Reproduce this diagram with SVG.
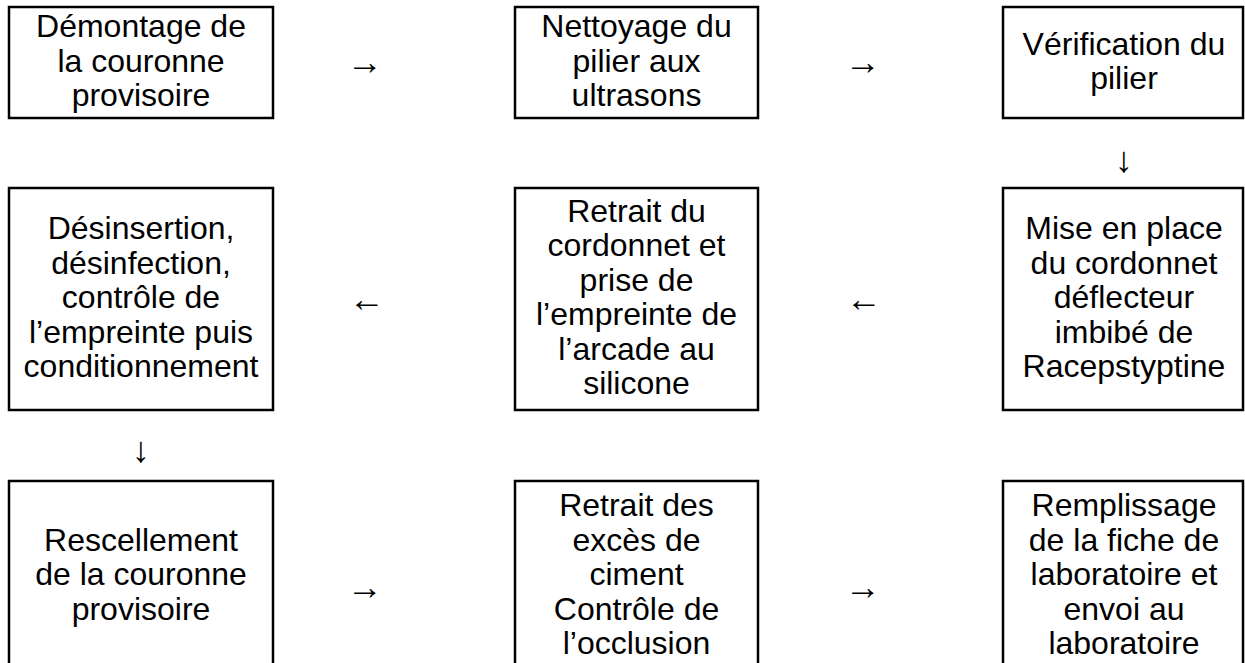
<svg xmlns="http://www.w3.org/2000/svg" width="1245" height="663" viewBox="0 0 1245 663">
  <style>
    .box { fill: #ffffff; stroke: #000000; stroke-width: 2.5; }
    .lbl { font-family: "Liberation Sans", Arial, sans-serif; font-size: 32px; fill: #000000; text-anchor: middle; }
    .arr { font-family: "Liberation Sans", "DejaVu Sans", sans-serif; font-size: 36px; fill: #000000; text-anchor: middle; }
  </style>
  <rect width="1245" height="663" fill="#ffffff"/>

  <!-- row 1 -->
  <g id="demontage">
    <rect class="box" x="9" y="7" width="264" height="111"/>
    <text class="lbl"><tspan x="141" y="37">Démontage de</tspan><tspan x="141" y="71.5">la couronne</tspan><tspan x="141" y="106">provisoire</tspan></text>
  </g>
  <g id="nettoyage">
    <rect class="box" x="515" y="7" width="243" height="111"/>
    <text class="lbl"><tspan x="636.5" y="37">Nettoyage du</tspan><tspan x="636.5" y="71.5">pilier aux</tspan><tspan x="636.5" y="106">ultrasons</tspan></text>
  </g>
  <g id="verification">
    <rect class="box" x="1003" y="7" width="240" height="111"/>
    <text class="lbl"><tspan x="1124" y="54.5">Vérification du</tspan><tspan x="1124" y="89">pilier</tspan></text>
  </g>

  <!-- row 2 -->
  <g id="desinsertion">
    <rect class="box" x="9" y="188" width="264" height="222"/>
    <text class="lbl"><tspan x="141" y="239">Désinsertion,</tspan><tspan x="141" y="273.5">désinfection,</tspan><tspan x="141" y="308">contrôle de</tspan><tspan x="141" y="342.5">l’empreinte puis</tspan><tspan x="141" y="377">conditionnement</tspan></text>
  </g>
  <g id="retrait-cordonnet">
    <rect class="box" x="515" y="188" width="243" height="222"/>
    <text class="lbl"><tspan x="636.5" y="221.75">Retrait du</tspan><tspan x="636.5" y="256.25">cordonnet et</tspan><tspan x="636.5" y="290.75">prise de</tspan><tspan x="636.5" y="325.25">l’empreinte de</tspan><tspan x="636.5" y="359.75">l’arcade au</tspan><tspan x="636.5" y="394.25">silicone</tspan></text>
  </g>
  <g id="mise-en-place">
    <rect class="box" x="1003" y="188" width="240" height="222"/>
    <text class="lbl"><tspan x="1124" y="239">Mise en place</tspan><tspan x="1124" y="273.5">du cordonnet</tspan><tspan x="1124" y="308">déflecteur</tspan><tspan x="1124" y="342.5">imbibé de</tspan><tspan x="1124" y="377">Racepstyptine</tspan></text>
  </g>

  <!-- row 3 (runs past the bottom edge) -->
  <g id="rescellement">
    <rect class="box" x="9" y="481" width="264" height="200"/>
    <text class="lbl"><tspan x="141" y="550.5">Rescellement</tspan><tspan x="141" y="585">de la couronne</tspan><tspan x="141" y="619.5">provisoire</tspan></text>
  </g>
  <g id="retrait-exces">
    <rect class="box" x="515" y="481" width="243" height="200"/>
    <text class="lbl"><tspan x="636.5" y="516">Retrait des</tspan><tspan x="636.5" y="550.5">excès de</tspan><tspan x="636.5" y="585">ciment</tspan><tspan x="636.5" y="619.5">Contrôle de</tspan><tspan x="636.5" y="654">l’occlusion</tspan></text>
  </g>
  <g id="remplissage">
    <rect class="box" x="1003" y="481" width="240" height="200"/>
    <text class="lbl"><tspan x="1124" y="516">Remplissage</tspan><tspan x="1124" y="550.5">de la fiche de</tspan><tspan x="1124" y="585">laboratoire et</tspan><tspan x="1124" y="619.5">envoi au</tspan><tspan x="1124" y="654">laboratoire</tspan></text>
  </g>

  <!-- step arrows -->
  <g id="connectors">
    <text class="arr" x="365" y="74">→</text>
    <text class="arr" x="863" y="74">→</text>
    <text class="arr" x="1124" y="172">↓</text>
    <text class="arr" x="367" y="311">←</text>
    <text class="arr" x="864" y="311">←</text>
    <text class="arr" x="141" y="462">↓</text>
    <text class="arr" x="365" y="599">→</text>
    <text class="arr" x="863" y="599">→</text>
  </g>
</svg>
